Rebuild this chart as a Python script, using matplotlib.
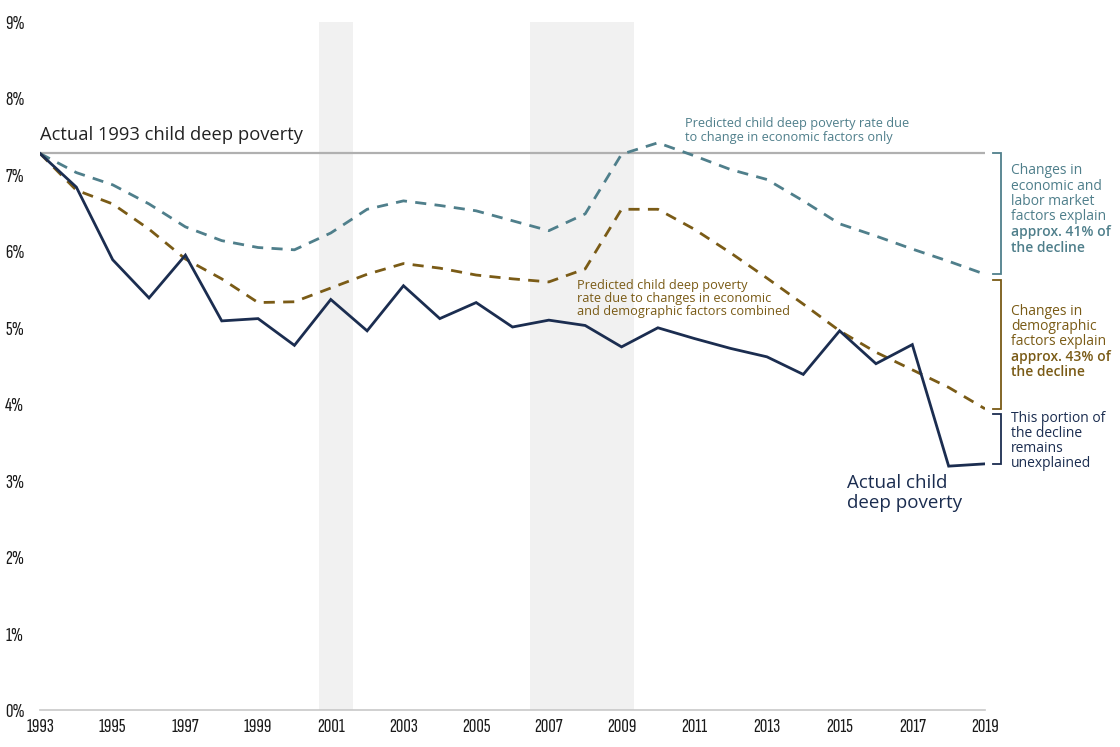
import matplotlib
matplotlib.use("Agg")
import matplotlib.pyplot as plt
import numpy as np

years = list(range(1993, 2020))
actual = [7.28, 6.84, 5.89, 5.39, 5.95, 5.09, 5.12, 4.77, 5.37, 4.96, 5.55, 5.12, 5.33,
          5.01, 5.10, 5.03, 4.75, 5.00, 4.86, 4.73, 4.62, 4.39, 4.96, 4.53, 4.78, 3.19, 3.22]
econ_only = [7.28, 7.03, 6.87, 6.62, 6.32, 6.14, 6.05, 6.02, 6.24, 6.55, 6.66, 6.60, 6.53,
             6.40, 6.27, 6.49, 7.27, 7.42, 7.25, 7.07, 6.94, 6.66, 6.36, 6.20, 6.03, 5.87, 5.70]
combined = [7.28, 6.80, 6.62, 6.29, 5.90, 5.64, 5.33, 5.34, 5.52, 5.70, 5.84, 5.78, 5.69,
            5.64, 5.60, 5.77, 6.55, 6.55, 6.29, 5.98, 5.65, 5.31, 4.96, 4.68, 4.45, 4.22, 3.94]
recessions = [(2000.67, 2001.62), (2006.47, 2009.34)]
yticks = list(range(0, 10))
xticks = list(range(1993, 2020, 2))

NAVY = "#1b2d50"
TEAL = "#4f7f8b"
BROWN = "#7a5b16"
GRAY = "#b0b0b0"

TXT = ["Open Sans", "DejaVu Sans"]
TICK = ["Sofia Sans Extra Condensed", "DejaVu Sans"]

W, H = 1120, 747
fig = plt.figure(figsize=(W / 100, H / 100), dpi=100)
ax = fig.add_axes([40 / W, 1 - 710 / H, (985 - 40) / W, (710 - 22) / H])
ax.set_xlim(1993, 2019)
ax.set_ylim(0, 9)

for a, b in recessions:
    ax.axvspan(a, b, color="#f1f1f1", zorder=0, lw=0)

ax.axhline(actual[0], color=GRAY, lw=1.6, zorder=1)

ax.plot(years, econ_only, color=TEAL, lw=2.0, dashes=(4, 3), zorder=3)
ax.plot(years, combined, color=BROWN, lw=2.0, dashes=(4, 3), zorder=3)
ax.plot(years, actual, color=NAVY, lw=2.0, zorder=4, solid_joinstyle="miter")

for s in ["top", "right", "left"]:
    ax.spines[s].set_visible(False)
ax.spines["bottom"].set_color("#c8c8c8")
ax.spines["bottom"].set_linewidth(1.2)
ax.set_yticks(yticks)
ax.set_yticklabels([f"{v}%" for v in yticks])
ax.set_xticks(xticks)
ax.set_xticklabels([str(v) for v in xticks])
ax.tick_params(length=0)
ax.tick_params(axis="x", pad=6)
for lab in ax.get_xticklabels() + ax.get_yticklabels():
    lab.set_fontfamily(TICK)
    lab.set_fontsize(15)
    lab.set_color("#1a1a1a")
for lab in ax.get_yticklabels():
    lab.set_horizontalalignment("left")
    lab.set_x(-35 / 945)
    lab.set_transform(ax.get_yaxis_transform())

def ft(x, y, s, **kw):
    fig.text(x / W, 1 - y / H, s, family=TXT, va="center", ha="left", **kw)

ft(40, 135, "Actual 1993 child deep poverty", color="#222222", fontsize=13.2)
ft(685, 124, "Predicted child deep poverty rate due", color=TEAL, fontsize=9.2)
ft(685, 137, "to change in economic factors only", color=TEAL, fontsize=9.2)
ft(577, 285, "Predicted child deep poverty", color=BROWN, fontsize=9.2)
ft(577, 298.5, "rate due to changes in economic", color=BROWN, fontsize=9.2)
ft(577, 312, "and demographic factors combined", color=BROWN, fontsize=9.2)
ft(847, 483, "Actual child", color=NAVY, fontsize=13.5)
ft(847, 503, "deep poverty", color=NAVY, fontsize=13.5)

right_blocks = [
    (TEAL, 171, ["Changes in", "economic and", "labor market", "factors explain"],
     ["approx. 41% of", "the decline"]),
    (BROWN, 311, ["Changes in", "demographic", "factors explain"],
     ["approx. 43% of", "the decline"]),
    (NAVY, 418, ["This portion of", "the decline", "remains", "unexplained"], []),
]
for col, y0, normal, bold in right_blocks:
    for i, s in enumerate(normal + bold):
        ft(1011, y0 + i * 15.3, s, color=col, fontsize=10,
           fontweight="semibold" if i >= len(normal) else "normal")

# brackets to the right of the final year
xb = 2019.44
xt = 2019.22
gap = 0.07
brackets = [
    (TEAL, actual[0], econ_only[-1]),
    (BROWN, econ_only[-1] - gap, combined[-1]),
    (NAVY, combined[-1] - gap, actual[-1]),
]
for col, top, bot in brackets:
    ax.plot([xt, xb, xb, xt], [top, top, bot, bot], color=col, lw=1.3,
            clip_on=False, solid_joinstyle="miter")

fig.savefig("out.png", dpi=100, facecolor="white")
